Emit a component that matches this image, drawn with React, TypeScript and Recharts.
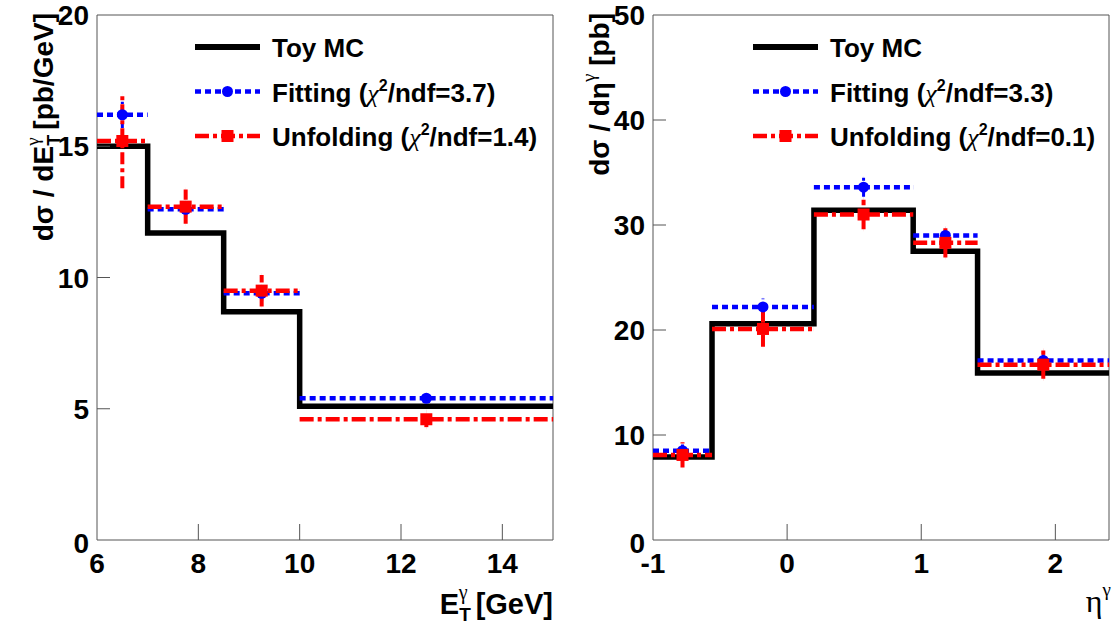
import React from "react";
import {
  ComposedChart,
  Line,
  Scatter,
  ErrorBar,
  XAxis,
  YAxis,
  ReferenceArea,
  Label,
} from "recharts";

const SANS = '"Liberation Sans", Arial, Helvetica, sans-serif';
const SERIF = '"Liberation Serif", "Times New Roman", serif';
const BLUE = "#0000ff";
const RED = "#ff0000";
const FRAME = "#555555";

// ---- E_T panel ----
const etEdges = [6, 7, 8.5, 10, 15];
const etToyMC = [15.0, 11.7, 8.7, 5.1];
const etFitting = [16.2, 12.6, 9.4, 5.4];
const etFittingErr = [0.5, 0.3, 0.3, 0.1];
const etUnfolding = [15.2, 12.7, 9.5, 4.6];
const etUnfoldingErr = [1.8, 0.65, 0.6, 0.3];
const etXTicks = [6, 8, 10, 12, 14];
const etYTicks = [0, 5, 10, 15, 20];

// ---- eta panel ----
const etaEdges = [-1, -0.56, 0.2, 0.94, 1.42, 2.4];
const etaToyMC = [7.9, 20.6, 31.4, 27.5, 15.9];
const etaFitting = [8.5, 22.2, 33.6, 29.0, 17.1];
const etaFittingErr = [0.6, 0.8, 0.9, 0.7, 0.6];
const etaUnfolding = [8.1, 20.1, 31.0, 28.3, 16.7];
const etaUnfoldingErr = [1.2, 1.7, 1.4, 1.4, 1.35];
const etaXTicks = [-1, 0, 1, 2];
const etaYTicks = [0, 10, 20, 30, 40, 50];

const etChi2 = { fitting: "3.7", unfolding: "1.4" };
const etaChi2 = { fitting: "3.3", unfolding: "0.1" };

function stepData(edges: number[], values: number[]) {
  return edges.map((x, i) => ({ x, y: values[Math.min(i, values.length - 1)] }));
}

function pointData(edges: number[], values: number[], errs: number[]) {
  return values.map((y, i) => ({
    x: (edges[i] + edges[i + 1]) / 2,
    y,
    xerr: (edges[i + 1] - edges[i]) / 2,
    yerr: errs[i],
  }));
}

const BLUE_DASH = "6 4";
const RED_DASH = "14 4 4 4";

// ---- ticks drawn inside the frame ----

function YTick(props: any) {
  const { x, y, payload, maxValue } = props;
  const v = payload.value;
  const shift = v === 0 ? 13 : 10;
  return (
    <g>
      {v !== 0 && v !== maxValue && (
        <line x1={x} y1={y} x2={x + 13} y2={y} stroke={FRAME} strokeWidth={1} />
      )}
      <text
        x={x - 8}
        y={y + shift}
        textAnchor="end"
        fontFamily={SANS}
        fontWeight="bold"
        fontSize={28}
        fill="#000"
      >
        {v}
      </text>
    </g>
  );
}

function XTick(props: any) {
  const { x, y, payload, first } = props;
  const v = payload.value;
  return (
    <g>
      {v !== first && (
        <line x1={x} y1={y} x2={x} y2={y - 16} stroke={FRAME} strokeWidth={1} />
      )}
      <text
        x={x}
        y={y + 33}
        textAnchor="middle"
        fontFamily={SANS}
        fontWeight="bold"
        fontSize={28}
        fill="#000"
      >
        {v}
      </text>
    </g>
  );
}

// ---- markers ----

const BlueDot = (p: any) => <circle cx={p.cx} cy={p.cy} r={5.5} fill={BLUE} />;
const RedSquare = (p: any) => (
  <rect x={p.cx - 6} y={p.cy - 6} width={12} height={12} fill={RED} />
);

// ---- axis titles ----

function EtYTitle(props: any) {
  const { x, y } = props.viewBox;
  return (
    <text
      transform={`translate(${x + 53},${y - 2}) rotate(-90)`}
      textAnchor="end"
      fontFamily={SANS}
      fontWeight="bold"
      fontSize={28}
      fill="#000"
    >
      dσ / dE
      <tspan fontSize={18} dy={7}>T</tspan>
      <tspan fontSize={19} fontFamily={SERIF} fontWeight="normal" dx={-11} dy={-21}>γ</tspan>
      <tspan dy={14}> [pb/GeV]</tspan>
    </text>
  );
}

function EtaYTitle(props: any) {
  const { x, y } = props.viewBox;
  return (
    <text
      transform={`translate(${x + 49},${y - 2}) rotate(-90)`}
      textAnchor="end"
      fontFamily={SANS}
      fontWeight="bold"
      fontSize={28}
      fill="#000"
    >
      dσ / dη
      <tspan fontSize={19} fontFamily={SERIF} fontWeight="normal" dy={-14}>γ</tspan>
      <tspan dy={14}> [pb]</tspan>
    </text>
  );
}

function EtXTitle(props: any) {
  const { x, y, width } = props.viewBox;
  return (
    <text
      x={x + width}
      y={y + 74}
      textAnchor="end"
      fontFamily={SANS}
      fontWeight="bold"
      fontSize={29}
      fill="#000"
    >
      E
      <tspan fontSize={19} dy={7}>T</tspan>
      <tspan fontSize={20} fontFamily={SERIF} fontWeight="normal" dx={-12} dy={-22}>γ</tspan>
      <tspan dy={15}> [GeV]</tspan>
    </text>
  );
}

function EtaXTitle(props: any) {
  const { x, y, width } = props.viewBox;
  return (
    <text
      x={x + width + 2}
      y={y + 72}
      textAnchor="end"
      fontFamily={SERIF}
      fontSize={32}
      fill="#000"
    >
      η
      <tspan fontSize={19} dy={-16}>γ</tspan>
    </text>
  );
}

// ---- legend ----

function LegendBox({ left, top, chi2 }: { left: number; top: number; chi2: { fitting: string; unfolding: string } }) {
  const rows = [
    { key: "toy", label: "Toy MC" },
    { key: "fit", label: "Fitting", chi: chi2.fitting },
    { key: "unf", label: "Unfolding", chi: chi2.unfolding },
  ];
  return (
    <svg
      width={420}
      height={170}
      style={{ position: "absolute", left, top: top - 20, pointerEvents: "none", overflow: "visible" }}
    >
      {rows.map((r, i) => {
        const cy = 32 + i * 44.5;
        return (
          <g key={r.key}>
            {r.key === "toy" && (
              <line x1={0} y1={cy} x2={65} y2={cy} stroke="#000" strokeWidth={6} />
            )}
            {r.key === "fit" && (
              <g>
                <line x1={0} y1={cy} x2={65} y2={cy} stroke={BLUE} strokeWidth={4.5} strokeDasharray={BLUE_DASH} />
                <circle cx={32.5} cy={cy} r={5.5} fill={BLUE} />
              </g>
            )}
            {r.key === "unf" && (
              <g>
                <line x1={0} y1={cy} x2={65} y2={cy} stroke={RED} strokeWidth={4.5} strokeDasharray={RED_DASH} />
                <rect x={26.5} y={cy - 6} width={12} height={12} fill={RED} />
              </g>
            )}
            <text x={77} y={cy + 10} fontFamily={SANS} fontWeight="bold" fontSize={26} fill="#000">
              {r.label}
              {r.chi !== undefined && (
                <>
                  {" ("}
                  <tspan fontFamily={SERIF} fontWeight="normal" fontStyle="italic">χ</tspan>
                  <tspan fontSize={16} dy={-11}>2</tspan>
                  <tspan dy={11}>{`/ndf=${r.chi})`}</tspan>
                </>
              )}
            </text>
          </g>
        );
      })}
    </svg>
  );
}

// ---- one panel ----

interface PanelProps {
  width: number;
  yAxisWidth: number;
  rightMargin: number;
  edges: number[];
  toy: number[];
  fit: number[];
  fitErr: number[];
  unf: number[];
  unfErr: number[];
  xTicks: number[];
  yTicks: number[];
  xDomain: [number, number];
  yDomain: [number, number];
  yTitle: (p: any) => React.ReactElement;
  xTitle: (p: any) => React.ReactElement;
}

function Panel(p: PanelProps) {
  const toyData = stepData(p.edges, p.toy);
  const fitData = pointData(p.edges, p.fit, p.fitErr);
  const unfData = pointData(p.edges, p.unf, p.unfErr);
  return (
    <ComposedChart
      width={p.width}
      height={626}
      margin={{ top: 15, right: p.rightMargin, bottom: 0, left: 0 }}
    >
      <XAxis
        dataKey="x"
        type="number"
        domain={p.xDomain}
        ticks={p.xTicks}
        allowDataOverflow
        height={86}
        tickSize={0}
        tickMargin={0}
        axisLine={false}
        tick={<XTick first={p.xDomain[0]} />}
        interval={0}
      >
        <Label content={p.xTitle} />
      </XAxis>
      <YAxis
        type="number"
        domain={p.yDomain}
        ticks={p.yTicks}
        allowDataOverflow
        width={p.yAxisWidth}
        tickSize={0}
        tickMargin={0}
        axisLine={false}
        tick={<YTick maxValue={p.yDomain[1]} />}
        interval={0}
      >
        <Label content={p.yTitle} />
      </YAxis>
      <ReferenceArea
        x1={p.xDomain[0]}
        x2={p.xDomain[1]}
        y1={p.yDomain[0]}
        y2={p.yDomain[1]}
        fill="none"
        fillOpacity={0}
        stroke={FRAME}
        strokeWidth={1}
      />
      <Line
        data={toyData}
        dataKey="y"
        type="stepAfter"
        stroke="#000"
        strokeWidth={5.5}
        strokeLinejoin="miter"
        dot={false}
        activeDot={false}
        isAnimationActive={false}
      />
      <Scatter data={fitData} dataKey="y" shape={BlueDot} isAnimationActive={false}>
        <ErrorBar dataKey="xerr" direction="x" width={0} stroke={BLUE} strokeWidth={4.5} strokeDasharray={BLUE_DASH} isAnimationActive={false} />
        <ErrorBar dataKey="yerr" direction="y" width={0} stroke={BLUE} strokeWidth={3} strokeDasharray="5 3" isAnimationActive={false} />
      </Scatter>
      <Scatter data={unfData} dataKey="y" shape={RedSquare} isAnimationActive={false}>
        <ErrorBar dataKey="xerr" direction="x" width={0} stroke={RED} strokeWidth={4.5} strokeDasharray={RED_DASH} isAnimationActive={false} />
        <ErrorBar dataKey="yerr" direction="y" width={0} stroke={RED} strokeWidth={4} strokeDasharray="12 4 4 4" isAnimationActive={false} />
      </Scatter>
    </ComposedChart>
  );
}

export default function App() {
  return (
    <div
      style={{
        position: "absolute",
        left: 0,
        top: 0,
        width: 1118,
        height: 626,
        background: "#fff",
        overflow: "hidden",
      }}
    >
      <div style={{ position: "absolute", left: 0, top: 0 }}>
        <Panel
          width={560}
          yAxisWidth={97}
          rightMargin={7}
          edges={etEdges}
          toy={etToyMC}
          fit={etFitting}
          fitErr={etFittingErr}
          unf={etUnfolding}
          unfErr={etUnfoldingErr}
          xTicks={etXTicks}
          yTicks={etYTicks}
          xDomain={[6, 15]}
          yDomain={[0, 20]}
          yTitle={EtYTitle}
          xTitle={EtXTitle}
        />
        <LegendBox left={195} top={35} chi2={etChi2} />
      </div>
      <div style={{ position: "absolute", left: 560, top: 0 }}>
        <Panel
          width={558}
          yAxisWidth={93}
          rightMargin={9}
          edges={etaEdges}
          toy={etaToyMC}
          fit={etaFitting}
          fitErr={etaFittingErr}
          unf={etaUnfolding}
          unfErr={etaUnfoldingErr}
          xTicks={etaXTicks}
          yTicks={etaYTicks}
          xDomain={[-1, 2.4]}
          yDomain={[0, 50]}
          yTitle={EtaYTitle}
          xTitle={EtaXTitle}
        />
        <LegendBox left={193} top={35} chi2={etaChi2} />
      </div>
    </div>
  );
}
